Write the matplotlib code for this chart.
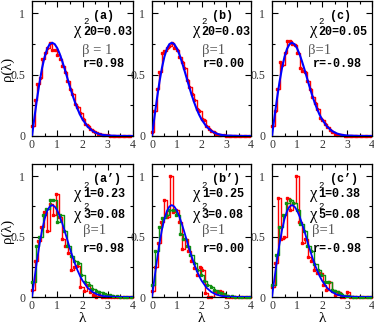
import matplotlib
matplotlib.use("Agg")
import matplotlib.pyplot as plt
import numpy as np

# blue curve
lam_curve = [0.0, 0.1, 0.2, 0.3, 0.4, 0.5, 0.6, 0.7, 0.8, 0.9, 1.0, 1.1, 1.2, 1.3, 1.4,
             1.5, 1.6, 1.7, 1.8, 1.9, 2.0, 2.2, 2.4, 2.6, 2.8, 3.0, 3.5, 4.0]
rho_curve = [0.0, 0.156, 0.304, 0.439, 0.554, 0.645, 0.710, 0.748, 0.760, 0.748, 0.716,
             0.668, 0.608, 0.542, 0.472, 0.402, 0.336, 0.276, 0.222, 0.175, 0.136,
             0.077, 0.041, 0.020, 0.009, 0.004, 0.0003, 0.0]

# top row histograms, bin 0.1
hist_a = [0.08, 0.29, 0.42, 0.47, 0.63, 0.68, 0.72, 0.76, 0.70, 0.70,
          0.66, 0.63, 0.57, 0.52, 0.45, 0.38, 0.34, 0.26, 0.24, 0.19,
          0.14, 0.10, 0.08, 0.06, 0.04, 0.03, 0.02, 0.015, 0.01, 0.008,
          0.005, 0.004, 0.003, 0.002, 0.001, 0.001, 0, 0, 0, 0]
hist_b = [0.03, 0.20, 0.38, 0.52, 0.68, 0.69, 0.72, 0.73, 0.76, 0.72,
          0.70, 0.64, 0.60, 0.55, 0.46, 0.40, 0.34, 0.29, 0.22, 0.20,
          0.14, 0.13, 0.08, 0.06, 0.04, 0.03, 0.02, 0.01, 0.01, 0.005,
          0.004, 0.003, 0.002, 0.001, 0.001, 0, 0, 0, 0, 0]
hist_c = [0.08, 0.20, 0.38, 0.60, 0.58, 0.68, 0.77, 0.77, 0.75, 0.74,
          0.68, 0.55, 0.53, 0.52, 0.45, 0.38, 0.32, 0.27, 0.22, 0.15,
          0.13, 0.10, 0.07, 0.05, 0.03, 0.02, 0.01, 0.01, 0.005, 0.003,
          0.002, 0.001, 0, 0, 0, 0, 0, 0, 0, 0]

# bottom row, red (bin 0.12) and green (bin 0.14)
red_a2 = [0.06, 0.30, 0.46, 0.58, 0.70, 0.55, 0.77, 0.68, 0.85, 0.66,
          0.48, 0.42, 0.36, 0.22, 0.25, 0.26, 0.08, 0.05, 0.10, 0.04,
          0.02, 0.0, 0.02, 0.0, 0, 0, 0, 0, 0, 0, 0, 0, 0, 0]
red_b2 = [0.05, 0.25, 0.45, 0.62, 0.80, 0.66, 1.00, 0.70, 0.72, 0.62,
          0.40, 0.48, 0.38, 0.30, 0.24, 0.18, 0.25, 0.22, 0.03, 0.0,
          0.0, 0.05, 0.03, 0.05, 0.02, 0, 0, 0, 0, 0, 0, 0, 0, 0]
red_c2 = [0.08, 0.28, 0.82, 0.48, 0.50, 0.82, 0.72, 0.78, 1.00, 0.62,
          0.45, 0.48, 0.33, 0.30, 0.22, 0.20, 0.20, 0.10, 0.06, 0.12,
          0.05, 0.02, 0.04, 0.0, 0.0, 0.04, 0, 0, 0, 0, 0, 0, 0, 0]
green_a2 = [0.12, 0.42, 0.50, 0.68, 0.73, 0.80, 0.80, 0.62, 0.68, 0.55,
            0.42, 0.34, 0.30, 0.28, 0.18, 0.12, 0.10, 0.07, 0.05, 0.04,
            0.03, 0.02, 0.02, 0.01, 0.01, 0, 0, 0, 0]
green_b2 = [0.10, 0.38, 0.58, 0.65, 0.68, 0.72, 0.72, 0.68, 0.52, 0.48,
            0.42, 0.35, 0.28, 0.22, 0.18, 0.13, 0.10, 0.08, 0.06, 0.04,
            0.03, 0.02, 0.01, 0.01, 0, 0, 0, 0, 0]
green_c2 = [0.10, 0.35, 0.58, 0.68, 0.78, 0.80, 0.78, 0.72, 0.60, 0.55,
            0.42, 0.38, 0.27, 0.22, 0.18, 0.12, 0.12, 0.06, 0.05, 0.03,
            0.02, 0.01, 0.01, 0, 0, 0, 0, 0, 0]

labels = ["(a)", "(b)", "(c)", "(a\u2019)", "(b\u2019)", "(c\u2019)"]
chi_top = ["20=0.03", "20=0.03", "20=0.05"]
chi_bot1 = ["1=0.23", "1=0.25", "1=0.38"]
chi_bot2 = ["3=0.08", "3=0.08", "5=0.08"]
r_vals = ["r=0.98", "r=0.00", "r=-0.98"]
beta_txt = ["\u03b2 = 1", "\u03b2=1", "\u03b2=1"]

RED = "#ff0000"
GREEN = "#109010"
BLUE = "#0000ff"
SERIF = "Liberation Serif"
MONO = "Liberation Mono"

fig = plt.figure(figsize=(3.74, 3.27), dpi=100)
W, H = 374.0, 327.0
lefts = [32, 152, 272]
widths = [101, 99, 100]
rows = [(1, 136), (164, 297)]

# text x anchors (data units) per column
lab_x = [2.41, 2.41, 2.32]
chi_x = [1.68, 1.67, 1.50]
beta_x = [2.0, 2.04, 1.44]
r_x = [2.0, 2.04, 1.64]
beta_x2 = [2.0, 2.04, 1.59]


def style(ax):
    ax.set_xlim(0, 4)
    ax.set_ylim(0, 1.1)
    ax.set_xticks([0, 1, 2, 3, 4])
    ax.set_xticks(np.arange(0, 4.01, 0.5), minor=True)
    ax.set_yticks([0, 0.5, 1])
    ax.set_yticklabels(["0", "0.5", "1"])
    ax.set_yticks(np.arange(0, 1.01, 0.25), minor=True)
    ax.tick_params(which="both", direction="in", top=True, right=True,
                   labelsize=8.5, labelcolor="#333333", pad=2)
    ax.tick_params(axis="y", pad=5)
    ax.tick_params(which="major", length=4, width=0.8)
    ax.tick_params(which="minor", length=2, width=0.8)
    for lab in ax.get_xticklabels() + ax.get_yticklabels():
        lab.set_family(SERIF)
    for s in ax.spines.values():
        s.set_linewidth(0.9)


def step(ax, vals, width, color, z):
    x = np.arange(len(vals) + 1) * width
    y = list(vals) + [vals[-1]]
    ax.plot(x, y, drawstyle="steps-post", color=color, lw=1.0, zorder=z)
    ax.plot(x[:-1], vals, ls="none", marker="s", ms=1.8, color=color, zorder=z,
            clip_on=False)


def chi(ax, x, y, sub, ysup, ysub):
    ax.text(x, y, "\u03c7", family=SERIF, fontsize=12, va="center", ha="left")
    ax.text(x + 0.34, ysup, "2", family=MONO, fontsize=6.5, va="center", ha="left")
    ax.text(x + 0.34, ysub, sub, family=MONO, weight="bold", fontsize=8.5,
            va="center", ha="left")


top_hists = [hist_a, hist_b, hist_c]
reds = [red_a2, red_b2, red_c2]
greens = [green_a2, green_b2, green_c2]

for r, (t, b) in enumerate(rows):
    for c in range(3):
        ax = fig.add_axes([lefts[c] / W, (H - b) / H, widths[c] / W, (b - t) / H])
        style(ax)
        if r == 0:
            step(ax, top_hists[c], 0.1, RED, 2)
            ax.plot(lam_curve, rho_curve, color=BLUE, lw=1.5, zorder=4)
            ax.text(lab_x[c], 0.98, labels[c], family=MONO, weight="bold",
                    fontsize=8.5, va="center")
            chi(ax, chi_x[c], 0.86, chi_top[c], 0.935, 0.845)
            ax.text(beta_x[c], 0.70, beta_txt[c], family=SERIF, fontsize=10.5,
                    color="#5a5a5a", va="center")
            ax.text(r_x[c], 0.59, r_vals[c], family=MONO, weight="bold",
                    fontsize=8.5, va="center")
        else:
            step(ax, reds[c], 0.12, RED, 2)
            step(ax, greens[c], 0.14, GREEN, 3)
            ax.plot(lam_curve, rho_curve, color=BLUE, lw=1.3, zorder=4)
            ax.text(lab_x[c], 0.98, labels[3 + c], family=MONO, weight="bold",
                    fontsize=8.5, va="center")
            chi(ax, chi_x[c], 0.85, chi_bot1[c], 0.92, 0.855)
            chi(ax, chi_x[c], 0.68, chi_bot2[c], 0.745, 0.675)
            ax.text(beta_x2[c], 0.55, "\u03b2=1", family=SERIF, fontsize=10.5,
                    color="#5a5a5a", va="center")
            ax.text(r_x[c], 0.40, r_vals[c], family=MONO, weight="bold",
                    fontsize=8.5, va="center")
            ax.set_xlabel("\u03bb", family=SERIF, fontsize=11, labelpad=0)

# y labels, one per row
for t, b in rows:
    fig.text(7.5 / W, 1 - (t + b) / 2 / H, "\u03c1(\u03bb)", family=SERIF,
             fontsize=10.5, rotation=90, ha="center", va="center")

fig.savefig("out.png", dpi=100)
